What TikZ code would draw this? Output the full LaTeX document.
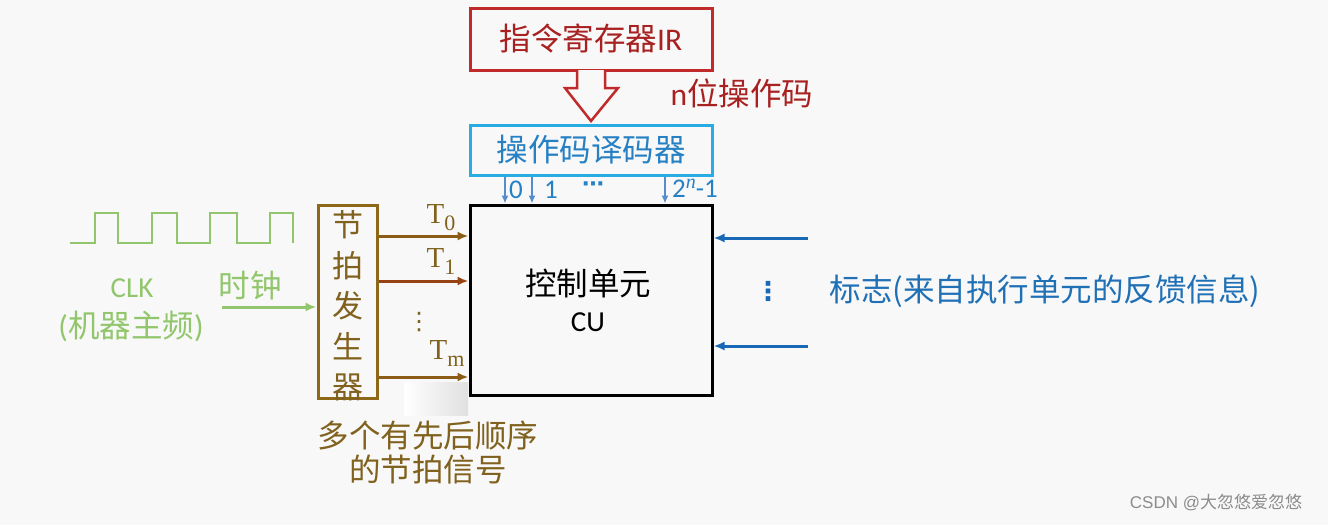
\documentclass[tikz,border=0pt]{standalone}
\usepackage{fontspec}
\setmainfont{Carlito}
\newfontfamily\cjk{Noto Sans CJK SC}
\newfontfamily\wmfont{Liberation Sans}
\newfontfamily\serf{Liberation Serif}
\newfontfamily\symf{DejaVu Sans}
\usetikzlibrary{arrows.meta,calc}
\definecolor{bgc}{RGB}{248,248,248}
\definecolor{irred}{RGB}{192,42,42}
\definecolor{irtext}{RGB}{168,32,32}
\definecolor{deccyan}{RGB}{40,172,228}
\definecolor{dectext}{RGB}{38,128,196}
\definecolor{steel}{RGB}{84,140,204}
\definecolor{flagblue}{RGB}{24,104,182}
\definecolor{flagtext}{RGB}{32,112,182}
\definecolor{bgbrown}{RGB}{140,104,24}
\definecolor{arrbrown}{RGB}{140,92,22}
\definecolor{arrred}{RGB}{150,66,20}
\definecolor{browntext}{RGB}{128,98,30}
\definecolor{clkgreen}{RGB}{146,198,108}
\definecolor{wmgray}{RGB}{140,140,140}
\newcommand{\Tlab}[1]{{\serf T}\raisebox{-7pt}{\fontsize{22}{22}\selectfont\serf #1}}
\tikzset{
  big/.style={font=\fontsize{31.5}{36}\selectfont},
  mid/.style={font=\fontsize{27}{30}\selectfont},
  boxline/.style={line width=3pt, inner sep=0pt},
  sarrow/.style={-{Latex[length=8pt,width=7pt]}, steel, line width=1.5pt},
  farrow/.style={-{Latex[length=11pt,width=9pt]}, flagblue, line width=3pt},
  barrow/.style={-{Latex[length=11pt,width=9pt]}, arrbrown, line width=3pt},
  garrow/.style={-{Latex[length=11pt,width=9pt]}, clkgreen, line width=3pt},
  tlab/.style={text=browntext, font=\fontsize{29}{32}\selectfont, inner sep=1pt},
}
\begin{document}
\begin{tikzpicture}[x=1pt,y=-1pt]
\useasboundingbox (0,0) rectangle (1328,525);
\fill[bgc] (0,0) rectangle (1328,525);

% IR box
\node[draw=irred, boxline, minimum width=242pt, minimum height=62pt, text=irtext, big] (ir) at (591,39) {{\cjk 指令寄存器}IR};
% decoder
\node[draw=deccyan, boxline, minimum width=242pt, minimum height=50pt, text=dectext, big] (dec) at (591,150) {\cjk 操作码译码器};
% hollow arrow
\draw[irred, line width=2.5pt, line join=miter, fill=bgc]
  (577,70) -- (577,88) -- (565,88) -- (591,121) -- (618,88) -- (605,88) -- (605,70);
\node[text=irtext, big, anchor=west] (nop) at (667,93) {n{\cjk 位操作码}};

% CU
\node[draw=black, boxline, minimum width=242pt, minimum height=190pt] (cu) at (591,300) {};
\node[big] (cut) at (588,283) {\cjk 控制单元};
\node[font=\fontsize{29}{32}\selectfont] (cut2) at (588,322) {CU};

% decoder outputs
\draw[sarrow] ([xshift=-86pt]dec.south) -- ([xshift=-86pt]cu.north);
\draw[sarrow] ([xshift=-59pt]dec.south) -- ([xshift=-59pt]cu.north);
\draw[sarrow] ([xshift=74pt]dec.south) -- ([xshift=74pt]cu.north);
\node[text=dectext, mid] (o0) at (516,190) {0};
\node[text=dectext, mid] (o1) at (551,190) {1};
\node[text=dectext, font=\symf\bfseries\fontsize{22}{24}\selectfont] (odots) at (593,187) {⋯};
\node[text=dectext, mid] (on) at (695,188) {2\raisebox{9pt}{\fontsize{20}{20}\selectfont\serf\itshape n}-1};

% flags
\coordinate (f1) at (808,238);
\coordinate (f2) at (808,346);
\draw[farrow] (f1) -- (f1 -| cu.east);
\draw[farrow] (f2) -- (f2 -| cu.east);
\node[text=flagblue, font=\symf\bfseries\fontsize{26}{28}\selectfont] (fdots) at (768,291) {⋮};
\node[text=flagtext, big, anchor=west] (flag) at (826,291) {\cjk 标志(来自执行单元的反馈信息)};

% beat generator
\node[draw=bgbrown, boxline, minimum width=59pt, minimum height=193pt] (bg) at (347.5,301.5) {};
\node[text=browntext, align=center, font=\cjk\fontsize{31}{40.5}\selectfont] (bgt) at (347.5,306) {节\\拍\\发\\生\\器};
\draw[barrow] ([yshift=65.5pt]bg.east) -- ([yshift=65.5pt]bg.east -| cu.west);
\draw[barrow, arrred] ([yshift=20.5pt]bg.east) -- ([yshift=20.5pt]bg.east -| cu.west);
\draw[barrow] ([yshift=-75.5pt]bg.east) -- ([yshift=-75.5pt]bg.east -| cu.west);
\node[tlab] (t0) at (441,218) {\Tlab{0}};
\node[tlab] (t1) at (441,262) {\Tlab{1}};
\node[text=browntext, font=\symf\fontsize{24}{28}\selectfont] (tdots) at (419,322) {⋮};
\node[tlab] (tm) at (447,354) {\Tlab{m}};
\shade[left color=white, right color=black!12] (404,382) rectangle (468,415);
\node[text=browntext, big] (multi1) at (428,436) {\cjk 多个有先后顺序};
\node[text=browntext, big] (multi2) at (428,470) {\cjk 的节拍信号};

% clock
\draw[clkgreen, line width=2pt] (70,243) -- (95,243) -- (95,213) -- (118,213) -- (118,243) -- (152,243) -- (152,213) -- (177,213) -- (177,243) -- (210,243) -- (210,213) -- (237,213) -- (237,243) -- (270,243) -- (270,213) -- (293,213) -- (293,243);
\node[text=clkgreen, font=\fontsize{29}{32}\selectfont] (clk) at (132,288) {CLK};
\node[text=clkgreen, big] (clk2) at (131,326) {(\cjk 机器主频\rmfamily)};
\node[text=clkgreen, big] (sz) at (250,286) {\cjk 时钟};
\coordinate (cin) at (222,307);
\draw[garrow] (cin) -- (cin -| bg.west);

% watermark
\node[text=wmgray, font=\fontsize{17}{20}\selectfont] (wm) at (1216,503) {{\wmfont CSDN @}{\cjk 大忽悠爱忽悠}};
\end{tikzpicture}
\end{document}
